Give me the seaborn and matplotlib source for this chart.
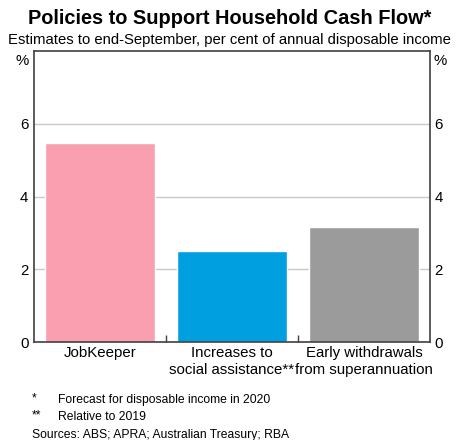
import numpy as np
import pandas as pd
import seaborn as sns
import matplotlib.pyplot as plt

# data
categories = ['JobKeeper', 'Increases to\nsocial assistance**', 'Early withdrawals\nfrom superannuation']
values = [5.47, 2.50, 3.16]
bar_colors = ['#FA9FB0', '#00A0E0', '#9B9B9B']
y_ticks = [0, 2, 4, 6]

sns.set_style('white')
plt.rcParams['font.family'] = ['Liberation Sans', 'DejaVu Sans']
plt.rcParams['text.color'] = 'black'
plt.rcParams['xtick.color'] = 'black'
plt.rcParams['ytick.color'] = 'black'

df = pd.DataFrame({'policy': categories, 'value': values})

fig = plt.figure(figsize=(4.59, 4.40), dpi=100)
ax = fig.add_axes([34 / 459, 1 - 342 / 440, 396 / 459, 291 / 440])

sns.barplot(data=df, x='policy', y='value', hue='policy', palette=bar_colors,
            width=0.84, legend=False, ax=ax, saturation=1)

ax.set_ylim(0, 8)
ax.set_xlim(-0.5, 2.5)
ax.set_yticks(y_ticks)
ax.yaxis.grid(True, color='#C8C8C8', linewidth=1)
ax.set_axisbelow(True)
ax.set_xlabel('')
ax.set_ylabel('')

for s in ax.spines.values():
    s.set_color('#404040')
    s.set_linewidth(1.2)

fs = 10.8
ax.tick_params(axis='y', length=0, labelsize=fs, pad=4)
ax.tick_params(axis='x', length=0, labelsize=fs, pad=3)
for lbl in ax.get_xticklabels():
    lbl.set_linespacing(1.25)
# small ticks between categories
ax.set_xticks([0.5, 1.5], minor=True)
ax.tick_params(axis='x', which='minor', bottom=True, direction='in', length=5,
               width=1, color='#404040')

# right axis labels
ax2 = ax.twinx()
ax2.set_ylim(0, 8)
ax2.set_yticks(y_ticks)
ax2.tick_params(axis='y', length=0, labelsize=fs, pad=3)
for s in ax2.spines.values():
    s.set_visible(False)

# percent signs at the top of each axis
ax.text(-0.012, 0.99, '%', transform=ax.transAxes, ha='right', va='top', fontsize=fs)
ax.text(1.008, 0.99, '%', transform=ax.transAxes, ha='left', va='top', fontsize=fs)

fig.text(0.5, 1 - 18 / 440, 'Policies to Support Household Cash Flow*', ha='center',
         va='center', fontsize=14.4, fontweight='bold')
fig.text(0.5, 1 - 40 / 440, 'Estimates to end-September, per cent of annual disposable income',
         ha='center', va='center', fontsize=10.7)

fig.text(32 / 459, 1 - 398 / 440, '*', ha='left', va='center', fontsize=8.7)
fig.text(58 / 459, 1 - 400 / 440, 'Forecast for disposable income in 2020', ha='left', va='center', fontsize=8.7)
fig.text(32 / 459, 1 - 415 / 440, '**', ha='left', va='center', fontsize=8.7)
fig.text(58 / 459, 1 - 417 / 440, 'Relative to 2019', ha='left', va='center', fontsize=8.7)
fig.text(32 / 459, 1 - 435 / 440, 'Sources: ABS; APRA; Australian Treasury; RBA', ha='left',
         va='center', fontsize=8.7)

fig.savefig('out.png', dpi=100)
